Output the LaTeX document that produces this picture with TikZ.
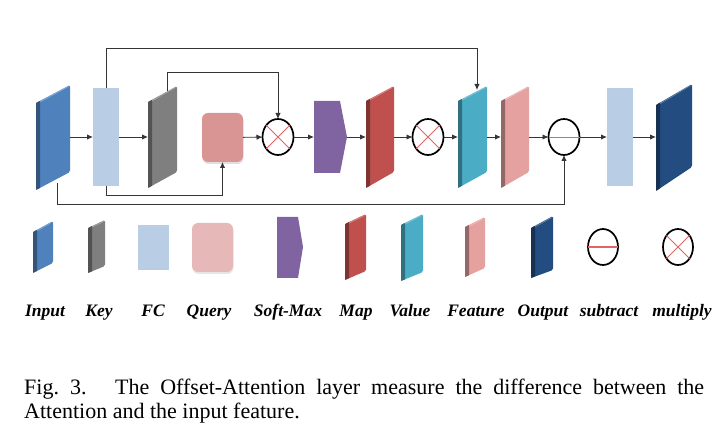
\documentclass[tikz,border=0pt]{standalone}
\usepackage{fontspec}
\setmainfont{Liberation Serif}
\usetikzlibrary{arrows.meta,shapes.geometric,shadows}
\definecolor{cin}{HTML}{4F81BD}
\definecolor{cgray}{HTML}{7F7F7F}
\definecolor{cfc}{HTML}{B9CDE5}
\definecolor{cq}{HTML}{D99594}
\definecolor{cql}{HTML}{E6B9B8}
\definecolor{csoft}{HTML}{8064A2}
\definecolor{cmap}{HTML}{C0504D}
\definecolor{cval}{HTML}{4BACC6}
\definecolor{cfeat}{HTML}{E5A0A0}
\definecolor{cout}{HTML}{234C80}
\definecolor{cxr}{HTML}{E06666}
\definecolor{cline}{HTML}{353535}
\newcommand\slab[7]{%
  \fill[#1, rounded corners=1.5pt] (#2,#4) -- (#3,#5) -- (#3,#7) -- (#2,#6) -- cycle;
  \fill[#1!65!black] (#2,#4) -- ({#2+4},{#4+4*(#5-#4)/(#3-#2)}) -- ({#2+4},{#6+4*(#7-#6)/(#3-#2)}) -- (#2,#6) -- cycle;
  \draw[white, opacity=0.3, line width=0.8pt] ({#2+4},{#4+4*(#5-#4)/(#3-#2)+1}) -- ({#3-1.5},{#5+1.5});
}
\begin{document}
\begin{tikzpicture}[x=1pt,y=-1pt,
  box/.style={inner sep=0pt, outer sep=0pt, draw=none},
  arr/.style={draw=cline, line width=0.9pt, -{Latex[length=6pt,width=5.5pt]}},
  opn/.style={ellipse, draw=black, line width=1.7pt, minimum width=31pt, minimum height=36pt, inner sep=0pt, outer sep=0pt},
  xline/.style={draw=cxr, line width=0.8pt},
  lab/.style={font=\fontsize{17.5}{20}\selectfont\bfseries\itshape, inner sep=0pt, anchor=base},
  captxt/.style={font=\fontsize{22}{24}\selectfont, inner sep=0pt, anchor=base west}]
\useasboundingbox (0,0) rectangle (716,430);

% ---------- main row ----------
\slab{cin}{36}{70}{103}{85}{190}{172}
\node[box, minimum width=34pt, minimum height=105pt] (in) at (53,137) {};
\node[box, fill=cfc, minimum width=26pt, minimum height=98pt] (fc1) at (106,137) {};
\slab{cgray}{148}{177}{102}{86}{188}{172}
\node[box, minimum width=29pt, minimum height=102pt] (key) at (162.5,137) {};
\node[box, fill=cq, rounded corners=6pt, minimum width=41pt, minimum height=49pt,
  drop shadow={opacity=0.25, shadow xshift=0.5pt, shadow yshift=-2pt}] (query) at (222.5,137.5) {};
\node[opn] (mul1) at (278,137) {};
\draw[xline] (mul1.45) -- (mul1.225) (mul1.135) -- (mul1.315);
\fill[csoft] (314,101) -- (340,101) -- (347,137) -- (340,173) -- (314,173) -- cycle;
\node[box, minimum width=33pt, minimum height=72pt] (soft) at (330.5,137) {};
\slab{cmap}{366}{394}{101}{86}{188}{172}
\node[box, minimum width=28pt, minimum height=102pt] (map) at (380,137) {};
\node[opn] (mul2) at (428,137) {};
\draw[xline] (mul2.45) -- (mul2.225) (mul2.135) -- (mul2.315);
\slab{cval}{458}{487}{101}{86}{188}{172}
\node[box, minimum width=29pt, minimum height=102pt] (val) at (472.5,137) {};
\slab{cfeat}{501}{529}{101}{86}{188}{172}
\node[box, minimum width=28pt, minimum height=102pt] (feat) at (515,137) {};
\node[opn] (sub) at (564,137) {};
\draw[xline] (sub.west) -- (sub.east);
\node[box, fill=cfc, minimum width=26pt, minimum height=98pt] (fc2) at (620,137) {};
\slab{cout}{656}{692}{105}{84}{191}{167}
\node[box, minimum width=36pt, minimum height=107pt] (out) at (674,137) {};

\coordinate (valtop) at (477,90);
\coordinate (keytop) at (167,91);
\coordinate (inbot) at (57,183);

\draw[arr] (in) -- (fc1);
\draw[arr] (fc1) -- (key);
\draw[arr] (query) -- (mul1);
\draw[arr] (mul1) -- (soft);
\draw[arr] (soft) -- (map);
\draw[arr] (map) -- (mul2);
\draw[arr] (mul2) -- (val);
\draw[arr] (val) -- (feat);
\draw[arr] (feat) -- (sub);
\draw[arr] (sub) -- (fc2);
\draw[arr] (fc2) -- (out);
\draw[arr] (fc1.north) -- ++(0,-40) -| (valtop);
\draw[arr] (keytop) -- ++(0,-19) -| (mul1.north);
\draw[arr] (fc1.south) -- ++(0,9) -| (query.south);
\draw[arr] (inbot) -- ++(0,21) -| (sub.south);

% ---------- legend ----------
\slab{cin}{33}{53}{232}{221}{273}{263}
\slab{cgray}{88}{105}{228}{220}{273}{266}
\node[box, fill=cfc, minimum width=31pt, minimum height=45pt] (lfc) at (153.5,247.5) {};
\node[box, fill=cql, rounded corners=6pt, minimum width=41pt, minimum height=49pt,
  drop shadow={opacity=0.2, shadow xshift=0.5pt, shadow yshift=-2pt}] (lq) at (212.5,247.5) {};
\fill[csoft] (277,217) -- (298,217) -- (303,247) -- (298,278) -- (277,278) -- cycle;
\slab{cmap}{345}{366}{224}{214}{280}{271}
\slab{cval}{401}{423}{225}{214}{281}{272}
\slab{cfeat}{465}{485}{227}{217}{277}{268}
\slab{cout}{531}{553}{228}{216}{278}{270}
\node[opn, minimum width=30pt] (lsub) at (603,247) {};
\draw[xline, line width=1.2pt] (lsub.west) -- (lsub.east);
\node[opn, minimum width=30pt] (lmul) at (678,247) {};
\draw[xline] (lmul.45) -- (lmul.225) (lmul.135) -- (lmul.315);

\node[lab] (t1) at (45,317) {Input};
\node[lab] (t2) at (99,317) {Key};
\node[lab] (t3) at (153,317) {FC};
\node[lab] (t4) at (209,317) {Query};
\node[lab] (t5) at (288,317) {Soft-Max};
\node[lab] (t6) at (356,317) {Map};
\node[lab] (t7) at (410,317) {Value};
\node[lab] (t8) at (476,317) {Feature};
\node[lab] (t9) at (543,317) {Output};
\node[lab] (t10) at (609,317) {subtract};
\node[lab] (t11) at (682,317) {multiply};

% ---------- caption ----------
\node[captxt] (c1) at (24,395) {\hbox to 680pt{Fig.~3.\hskip 1.3em The Offset-Attention layer measure the difference between the}};
\node[captxt] (c2) at (24,419) {Attention and the input feature.};
\end{tikzpicture}
\end{document}
